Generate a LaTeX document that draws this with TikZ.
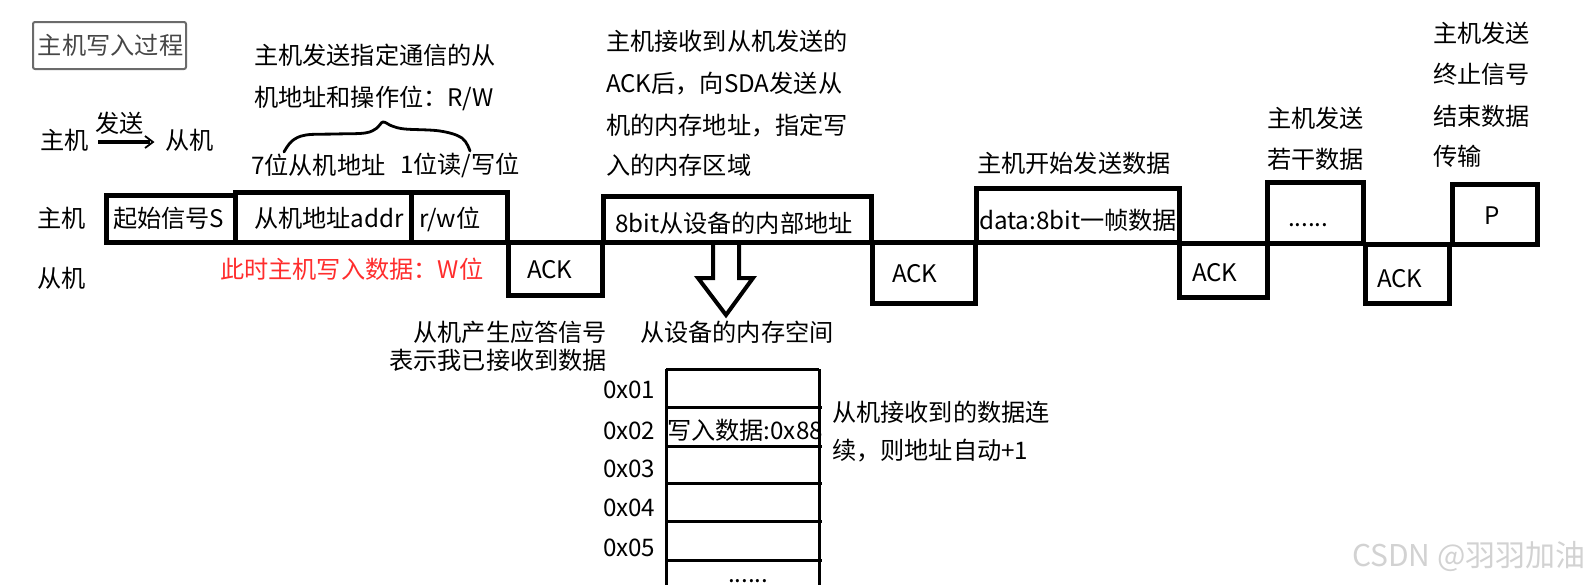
\documentclass[tikz,border=0pt]{standalone}
\usepackage{fontspec}
\setmainfont{Noto Sans CJK SC}
\usetikzlibrary{calc}
\definecolor{redtxt}{RGB}{255,45,45}
\definecolor{titlegray}{RGB}{70,70,70}
\newcommand{\sigbox}[5]{\node[sig, minimum width={(#4-#2)*0.5pt}, minimum height={(#5-#3)*0.5pt}] (#1) at (#2,#3) {};}
\begin{document}
\begin{tikzpicture}[x=0.5pt,y=-0.5pt,
  every node/.style={inner sep=0pt, outer sep=0pt, font=\fontsize{12.1}{14}\selectfont},
  txt/.style={anchor=base west},
  rtxt/.style={anchor=base east},
  sig/.style={draw=black, line width=2.5pt, anchor=north west, line join=miter},
  mem/.style={line width=1.5pt},
  bracepen/.style={line width=1.4pt, line cap=round}]
\path[use as bounding box] (0,0) rectangle (1590,584);

% title
\node[draw=titlegray!80, line width=1pt, rounded corners=1pt, anchor=north west,
      minimum width={153*0.5pt}, minimum height={47*0.5pt}] (title) at (33,22) {};
\node[txt, text=titlegray] (titletxt) at (38,54) {主机写入过程};

% legend arrow
\node[txt] (zj) at (40,149) {主机};
\node[txt] (fs) at (95,132) {发送};
\node[txt] (cj) at (165,149) {从机};
\coordinate (arrS) at (98,142);
\coordinate (arrE) at (153,142);
\draw[line width=2pt] (arrS) -- ($(arrE)+(-3,0)$);
\draw[line width=0.9pt] ($(arrE)+(-8,-6)$) -- (arrE) -- ($(arrE)+(-8,6)$);

% brace explanation
\node[txt] (n1a) at (254,64) {主机发送指定通信的从};
\node[txt] (n1b) at (254,106) {机地址和操作位：R/W};
\draw[bracepen] plot[smooth, tension=0.6] coordinates {(284,152) (292,141) (306,135) (335,134) (365,133) (377,128) (383,122) (392,126) (405,129) (440,131) (462,138) (470,151)};
\node[txt] (n7) at (251,174) {7位从机地址};
\node[txt] (n1w) at (400,173) {1位读/写位};

% row labels
\node[txt] (rowM) at (37,227) {主机};
\node[txt] (rowS) at (37,287) {从机};

% signal boxes
\sigbox{bS}{106}{195}{235}{242}
\sigbox{bA}{235}{192}{411}{242}
\sigbox{bR}{411}{192}{507}{242}
\sigbox{k1}{508}{242}{602}{295}
\sigbox{b8}{603}{196}{871}{242}
\sigbox{k2}{872}{242}{975}{303}
\sigbox{bD}{976}{188}{1179}{242}
\sigbox{k3}{1179}{243}{1267}{297}
\sigbox{bE}{1267}{182}{1363}{243}
\sigbox{k4}{1365}{244}{1449}{303}
\sigbox{bP}{1452}{184}{1537}{244}

\node[txt] (tS) at (113,227) {起始信号S};
\node[txt] (tA) at (254,227) {从机地址addr};
\node[txt] (tR) at (419,227) {r/w位};
\node[txt] (tk1) at (527,278) {ACK};
\node[txt] (t8) at (615,232) {8bit从设备的内部地址};
\node[txt] (tk2) at (892,282) {ACK};
\node[txt] (tD) at (979,229) {data:8bit一帧数据};
\node[txt] (tk3) at (1192,281) {ACK};
\node[txt] (tE) at (1288,226) {......};
\node[txt] (tk4) at (1377,287) {ACK};
\node[txt] (tP) at (1484,224) {P};

\node[txt, text=redtxt] (red) at (220,278) {此时主机写入数据：W位};

% top annotations
\node[txt] (m1) at (606,50) {主机接收到从机发送的};
\node[txt] (m2) at (606,92) {ACK后，向SDA发送从};
\node[txt] (m3) at (606,134) {机的内存地址，指定写};
\node[txt] (m4) at (606,174) {入的内存区域};
\node[txt] (d1) at (977,172) {主机开始发送数据};
\node[txt] (e1) at (1267,127) {主机发送};
\node[txt] (e2) at (1267,168) {若干数据};
\node[txt] (p1) at (1433,42) {主机发送};
\node[txt] (p2) at (1433,83) {终止信号};
\node[txt] (p3) at (1433,125) {结束数据};
\node[txt] (p4) at (1433,165) {传输};

% hollow arrow
\coordinate (harr) at (726,244);
\draw[line width=2pt, line join=miter] ($(harr)+(-13,0)$) -- ($(harr)+(-13,34)$) -- ($(harr)+(-28,34)$) -- ($(harr)+(0,71)$) -- ($(harr)+(27,34)$) -- ($(harr)+(13,34)$) -- ($(harr)+(13,0)$);

% lower annotations
\node[rtxt] (a1) at (607,341) {从机产生应答信号};
\node[rtxt] (a2) at (607,369) {表示我已接收到数据};
\node[txt] (memT) at (640,341) {从设备的内存空间};

% memory
\draw[mem] (666,369) -- (819,369);
\draw[mem] (666,369) -- (666,590);
\draw[mem] (819,369) -- (819,590);
\foreach \yy in {407,446,483,521,560} {\draw[mem] (666,\yy) -- (822,\yy);}
\node[txt] (x1) at (603,398) {0x01};
\node[txt] (x2) at (603,439) {0x02};
\node[txt] (x3) at (603,477) {0x03};
\node[txt] (x4) at (603,516) {0x04};
\node[txt] (x5) at (603,556) {0x05};
\node[txt] (wd) at (667,439) {写入数据:0x88};
\node[txt] (mdots) at (728,582) {......};
\node[txt] (c1) at (832,421) {从机接收到的数据连};
\node[txt] (c2) at (832,459) {续，则地址自动+1};

% watermark
\node[txt, text=gray!35, font=\fontsize{15}{17}\selectfont] (wm) at (1352,566) {CSDN @羽羽加油};
\end{tikzpicture}
\end{document}
